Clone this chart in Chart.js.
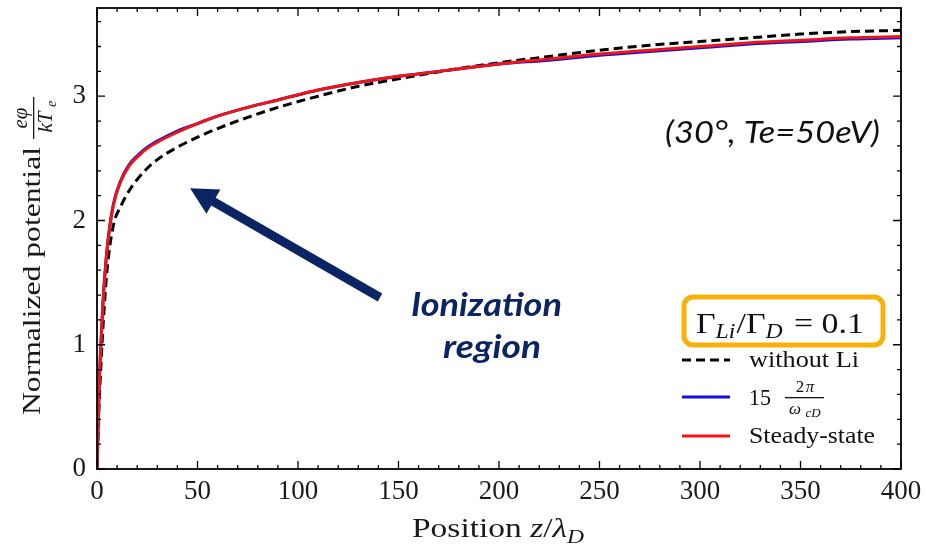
<!DOCTYPE html>
<html>
<head>
<meta charset="utf-8">
<script src="https://cdn.jsdelivr.net/npm/chart.js@4.4.1/dist/chart.umd.min.js"></script>
<style>
  html, body { margin: 0; padding: 0; background: #fff; }
  #wrap { width: 925px; height: 547px; }
</style>
</head>
<body>
<div id="wrap"><canvas id="potChart"></canvas></div>
<script>
// position z / lambda_D
const positions = [0, 1, 2, 3, 5, 8, 12, 16, 20, 25, 30, 40, 50, 60, 75, 90, 110, 130, 150, 175, 200, 225, 250, 275, 300, 325, 350, 375, 400];
// normalized potential e*phi / kTe
const withoutLi = [0, 0.50, 0.85, 1.15, 1.60, 1.95, 2.12, 2.24, 2.33, 2.42, 2.49, 2.59, 2.67, 2.74, 2.83, 2.91, 3.00, 3.08, 3.14, 3.21, 3.27, 3.32, 3.37, 3.41, 3.44, 3.47, 3.50, 3.52, 3.53];
const after15 = [0, 0.63, 1.03, 1.35, 1.77, 2.12, 2.33, 2.45, 2.52, 2.59, 2.64, 2.72, 2.78, 2.84, 2.91, 2.97, 3.05, 3.11, 3.16, 3.21, 3.26, 3.29, 3.33, 3.36, 3.39, 3.42, 3.44, 3.46, 3.47];
const steadyState = [0, 0.62, 1.02, 1.34, 1.76, 2.11, 2.32, 2.44, 2.51, 2.58, 2.63, 2.71, 2.78, 2.84, 2.91, 2.97, 3.05, 3.11, 3.16, 3.21, 3.26, 3.30, 3.34, 3.37, 3.40, 3.43, 3.45, 3.47, 3.48];
const xTicks = [0, 50, 100, 150, 200, 250, 300, 350, 400];
const yTicks = [0, 1, 2, 3];

const SERIF = '"Liberation Serif", "DejaVu Serif", serif';
const NAVY = '#0b2463';

function pts(ys) {
  return positions.map((x, i) => ({ x: x, y: ys[i] }));
}

// draw a run of [text, font, dy, gap] pieces stretched to a given width
function drawRun(ctx, pieces, x, y, width) {
  let total = 0;
  pieces.forEach(p => { ctx.font = p[1]; total += ctx.measureText(p[0]).width + (p[3] || 0); });
  ctx.save();
  ctx.translate(x, y);
  ctx.scale(width / total, 1);
  let cx = 0;
  pieces.forEach(p => {
    ctx.font = p[1];
    ctx.fillText(p[0], cx, p[2] || 0);
    cx += ctx.measureText(p[0]).width + (p[3] || 0);
  });
  ctx.restore();
}

// frame, inward ticks, axis titles, legend and annotations
const decorations = {
  id: 'decorations',
  afterDraw(chart) {
    const ctx = chart.ctx;
    const a = chart.chartArea;
    const xs = chart.scales.x, ys = chart.scales.y;
    ctx.save();
    ctx.strokeStyle = '#000';
    ctx.lineWidth = 1.8;
    ctx.strokeRect(a.left, a.top, a.right - a.left, a.bottom - a.top);

    ctx.lineWidth = 1.3;
    ctx.beginPath();
    for (let v = 0; v <= 400.01; v += 10) {
      const px = xs.getPixelForValue(v);
      const len = v % 50 === 0 ? 8 : 4;
      ctx.moveTo(px, a.bottom); ctx.lineTo(px, a.bottom - len);
      ctx.moveTo(px, a.top); ctx.lineTo(px, a.top + len);
    }
    for (let k = 0; k <= 18; k++) {
      const py = ys.getPixelForValue(k * 0.2);
      const len = k % 5 === 0 ? 8 : 4;
      ctx.moveTo(a.left, py); ctx.lineTo(a.left + len, py);
      ctx.moveTo(a.right, py); ctx.lineTo(a.right - len, py);
    }
    ctx.stroke();

    ctx.fillStyle = '#1a1a1a';
    ctx.textBaseline = 'alphabetic';
    ctx.textAlign = 'left';

    // x title
    drawRun(ctx, [
      ['Position ', '27px ' + SERIF],
      ['z', 'italic 27px ' + SERIF],
      ['/', '27px ' + SERIF],
      ['λ', 'italic 27px ' + SERIF],
      ['D', 'italic 19px ' + SERIF, 6]
    ], 412, 537, 172);

    // y title, rotated
    ctx.save();
    ctx.translate(40, 415);
    ctx.rotate(-Math.PI / 2);
    drawRun(ctx, [['Normalized potential', '26px ' + SERIF]], 0, 0, 268);
    ctx.textAlign = 'center';
    const fx = 297;
    ctx.font = 'italic 21px ' + SERIF;
    ctx.fillText('eφ', fx, -13);
    ctx.fillText('kT', fx - 4, 12);
    ctx.font = 'italic 14px ' + SERIF;
    ctx.fillText('e', fx + 14, 16);
    ctx.fillRect(fx - 21, -7, 42, 1.3);
    ctx.restore();

    // legend header in a rounded box
    ctx.strokeStyle = '#f6b20a';
    ctx.lineWidth = 5;
    ctx.beginPath();
    ctx.roundRect(684, 297, 199, 48, 9);
    ctx.stroke();
    ctx.fillStyle = '#111';
    drawRun(ctx, [
      ['Γ', '30px ' + SERIF],
      ['Li', 'italic 21px ' + SERIF, 5, 1],
      ['/Γ', '30px ' + SERIF],
      ['D', 'italic 21px ' + SERIF, 5, 10],
      ['= 0.1', '30px ' + SERIF]
    ], 696, 333, 168);

    // legend rows
    const rowY = [360, 397, 436];
    ['without Li', '15', 'Steady-state'].forEach((lab, i) => {
      const ds = chart.data.datasets.find(d => d.label === lab);
      ctx.save();
      ctx.strokeStyle = ds.borderColor;
      ctx.lineWidth = 3;
      ctx.setLineDash(ds.borderDash || []);
      ctx.beginPath();
      ctx.moveTo(682, rowY[i]); ctx.lineTo(730, rowY[i]);
      ctx.stroke();
      ctx.restore();
      ctx.fillStyle = '#111';
      ctx.textAlign = 'left';
      if (lab === '15') {
        drawRun(ctx, [['15', '23px ' + SERIF]], 749, rowY[i] + 8, 22);
        ctx.textAlign = 'center';
        ctx.font = '17px ' + SERIF;
        ctx.fillText('2', 800, rowY[i] - 5);
        ctx.font = 'italic 17px ' + SERIF;
        ctx.fillText('π', 810, rowY[i] - 5);
        ctx.fillText('ω', 795, rowY[i] + 17);
        ctx.font = 'italic 13px ' + SERIF;
        ctx.fillText('cD', 813, rowY[i] + 20);
        ctx.fillRect(785, rowY[i], 39, 1.3);
      } else {
        drawRun(ctx, [[lab, '23px ' + SERIF]], 749, rowY[i] + 7, lab === 'without Li' ? 110 : 126);
      }
    });

    // case note
    ctx.fillStyle = '#111';
    ctx.textAlign = 'left';
    drawRun(ctx, [['(30°, ', 'italic 31px Lato'], ['Te=50eV)', 'italic 31px Lato']], 665, 143, 215);

    // ionization arrow
    const tx = xs.getPixelForValue(46.3), ty = ys.getPixelForValue(2.26);
    const sx = xs.getPixelForValue(140.8), sy = ys.getPixelForValue(1.38);
    const ang = Math.atan2(ty - sy, tx - sx);
    const headLen = 27, headHalf = 14;
    const bx = tx - headLen * Math.cos(ang), by = ty - headLen * Math.sin(ang);
    ctx.strokeStyle = NAVY;
    ctx.lineWidth = 9;
    ctx.beginPath();
    ctx.moveTo(sx, sy); ctx.lineTo(bx + 4 * Math.cos(ang), by + 4 * Math.sin(ang));
    ctx.stroke();
    ctx.fillStyle = NAVY;
    ctx.beginPath();
    ctx.moveTo(tx, ty);
    ctx.lineTo(bx + headHalf * Math.sin(ang), by - headHalf * Math.cos(ang));
    ctx.lineTo(bx - headHalf * Math.sin(ang), by + headHalf * Math.cos(ang));
    ctx.closePath();
    ctx.fill();

    drawRun(ctx, [['Ionization', 'italic bold 32px Lato']], 411, 316, 151);
    drawRun(ctx, [['region', 'italic bold 32px Lato']], 443, 358, 98);
    ctx.restore();
  }
};

function noPad(s) {
  s.paddingLeft = 0; s.paddingRight = 0; s.paddingTop = 0; s.paddingBottom = 0;
}

new Chart(document.getElementById('potChart'), {
  type: 'line',
  data: {
    datasets: [
      {
        label: 'without Li',
        data: pts(withoutLi),
        borderColor: '#000000',
        borderDash: [9, 5],
        borderWidth: 3,
        order: 3
      },
      {
        label: '15',
        data: pts(after15),
        borderColor: '#1010e6',
        borderWidth: 3,
        order: 2
      },
      {
        label: 'Steady-state',
        data: pts(steadyState),
        borderColor: '#f01414',
        borderWidth: 3,
        order: 1
      }
    ]
  },
  options: {
    responsive: true,
    maintainAspectRatio: false,
    animation: false,
    devicePixelRatio: 1,
    layout: { padding: { top: 8, right: 24, left: 0, bottom: 0 } },
    elements: {
      point: { radius: 0 },
      line: { cubicInterpolationMode: 'monotone', fill: false }
    },
    plugins: {
      legend: { display: false },
      tooltip: { enabled: false }
    },
    scales: {
      x: {
        type: 'linear',
        min: 0,
        max: 400,
        afterBuildTicks: s => { s.ticks = xTicks.map(v => ({ value: v })); },
        afterFit: s => { s.height = 78; noPad(s); },
        grid: { display: false, drawTicks: false },
        border: { display: false },
        ticks: { color: '#1a1a1a', padding: 7, maxRotation: 0, font: { family: SERIF, size: 27 } }
      },
      y: {
        type: 'linear',
        min: 0,
        max: 3.71,
        afterBuildTicks: s => { s.ticks = yTicks.map(v => ({ value: v })); },
        afterFit: s => { s.width = 97; noPad(s); },
        grid: { display: false, drawTicks: false },
        border: { display: false },
        ticks: { color: '#1a1a1a', padding: 11, font: { family: SERIF, size: 27 } }
      }
    }
  },
  plugins: [decorations]
});
</script>
</body>
</html>
